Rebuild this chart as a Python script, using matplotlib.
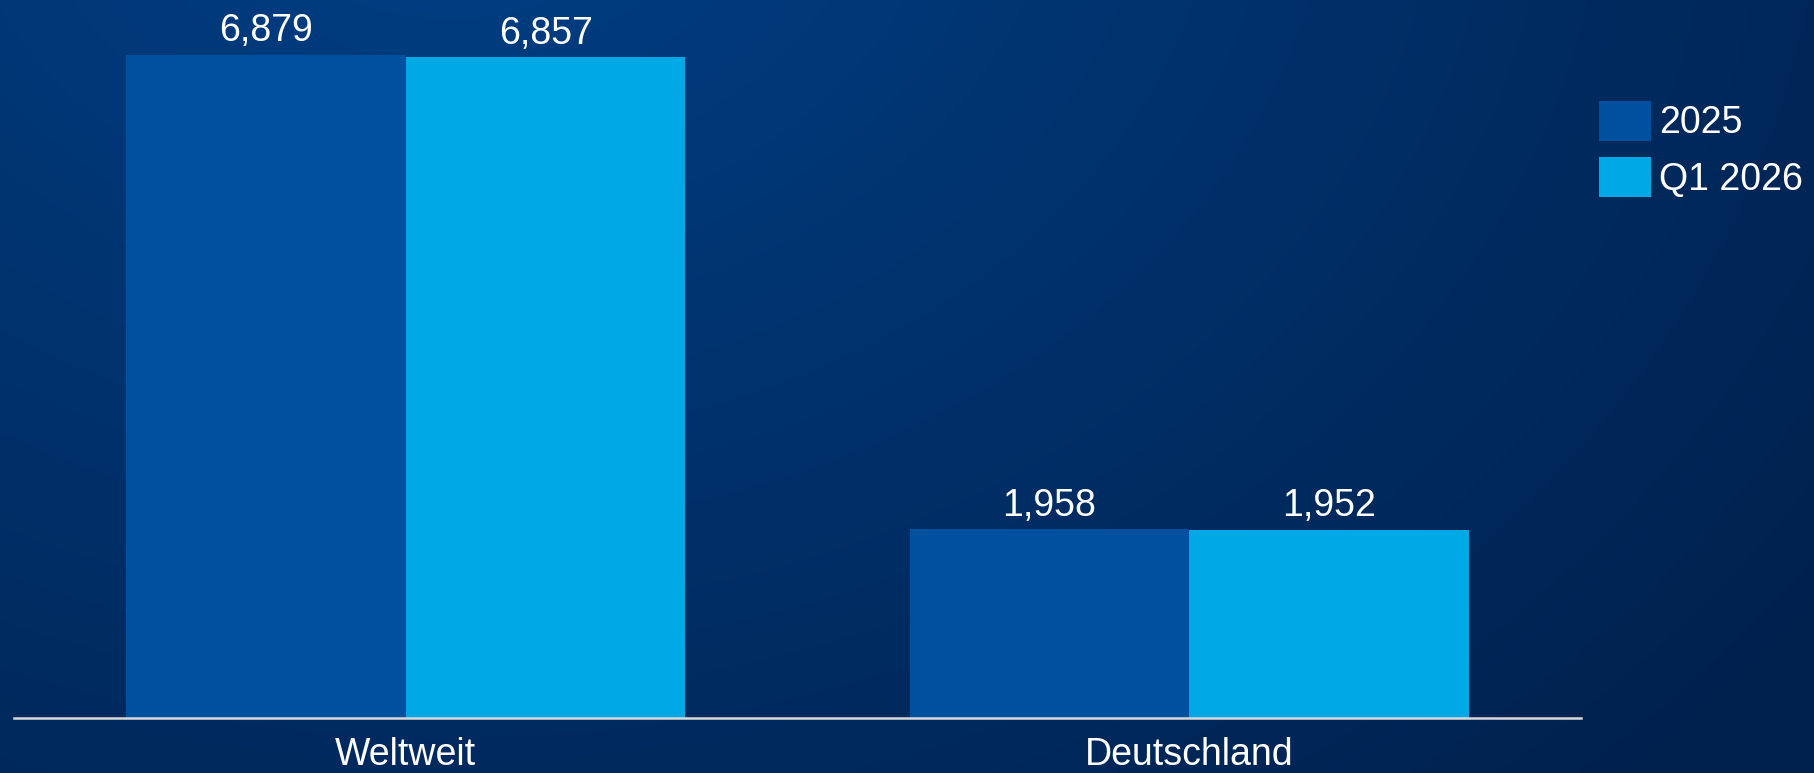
import numpy as np
import matplotlib
matplotlib.use("Agg")
import matplotlib.pyplot as plt

categories = ["Weltweit", "Deutschland"]
series_names = ["2025", "Q1 2026"]
values_2025 = [6879, 1958]
values_q1_2026 = [6857, 1952]
value_labels_2025 = ["6,879", "1,958"]
value_labels_q1_2026 = ["6,857", "1,952"]

plt.rcParams['font.family'] = ['Liberation Sans', 'DejaVu Sans']

W, H = 1814, 773
fig = plt.figure(figsize=(W / 100, H / 100), dpi=100)

# background gradient
bg = fig.add_axes([0, 0, 1, 1])
yy, xx = np.mgrid[0:H, 0:W]
d = np.sqrt(((xx - 450) / 1.0) ** 2 + ((yy + 150) * 1.3) ** 2)
t = np.clip(d / 1700.0, 0, 1)
c0 = np.array([0, 64, 134]) / 255.0
c1 = np.array([0, 33, 78]) / 255.0
img = c0[None, None, :] * (1 - t[..., None]) + c1[None, None, :] * t[..., None]
bg.imshow(img, aspect='auto', extent=[0, 1, 0, 1], origin='upper')
bg.set_axis_off()

ax = fig.add_axes([14 / W, (H - 718) / H, (1581 - 14) / W, 718 / H])
ax.set_facecolor('none')
x = np.arange(len(categories))
bw = 0.357
c_dark = '#0050A0'
c_light = '#00A8E6'
b1 = ax.bar(x - bw / 2, values_2025, bw, color=c_dark, label=series_names[0])
b2 = ax.bar(x + bw / 2, values_q1_2026, bw, color=c_light, label=series_names[1])
ax.bar_label(b1, labels=value_labels_2025, padding=4, color='white', fontsize=27)
ax.bar_label(b2, labels=value_labels_q1_2026, padding=4, color='white', fontsize=27)

ax.set_xlim(-0.5, 1.5)
ax.set_ylim(0, 7450)
ax.set_xticks(x)
ax.set_xticklabels(categories, color='white', fontsize=27)
ax.tick_params(axis='x', length=0, pad=14)
ax.set_yticks([])
for s in ['top', 'right', 'left']:
    ax.spines[s].set_visible(False)
ax.spines['bottom'].set_color('#d9d9d9')
ax.spines['bottom'].set_linewidth(1.8)

leg = ax.legend(loc='upper left', bbox_to_anchor=(1599 / W, 1 - 101 / H),
                bbox_transform=fig.transFigure, frameon=False, fontsize=27,
                handlelength=1.39, handleheight=1.25, handletextpad=0.22,
                labelspacing=0.42, borderpad=0, borderaxespad=0)
for txt in leg.get_texts():
    txt.set_color('white')

fig.savefig('out.png', dpi=100)
